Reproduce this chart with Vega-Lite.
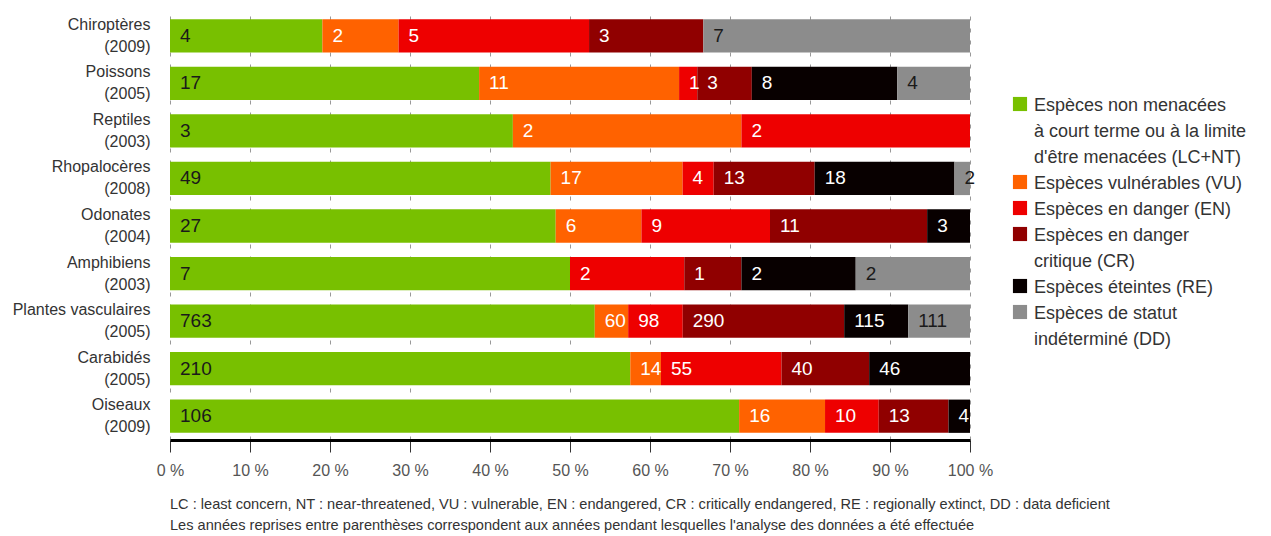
{
  "$schema": "https://vega.github.io/schema/vega-lite/v6.json",
  "autosize": "none",
  "width": 800,
  "height": 428,
  "padding": {"left": 170, "top": 12, "right": 301, "bottom": 96},
  "background": "white",
  "config": {
    "font": "Liberation Sans",
    "view": {"stroke": null},
    "style": {"guide-label": {"lineHeight": 26, "dy": -7}}
  },
  "title": {
    "text": ["LC : least concern, NT : near-threatened, VU : vulnerable, EN : endangered, CR : critically endangered, RE : regionally extinct, DD : data deficient", "Les années reprises entre parenthèses correspondent aux années pendant lesquelles l'analyse des données a été effectuée"],
    "orient": "bottom",
    "anchor": "start",
    "frame": "group",
    "fontSize": 14.6,
    "fontWeight": "normal",
    "color": "#333333",
    "lineHeight": 21,
    "offset": 19
  },
  "data": {
    "values": [
      {"groupe": "Chiroptères|(2009)", "statut": "LC+NT", "o": 1, "n": 4},
      {"groupe": "Chiroptères|(2009)", "statut": "VU", "o": 2, "n": 2},
      {"groupe": "Chiroptères|(2009)", "statut": "EN", "o": 3, "n": 5},
      {"groupe": "Chiroptères|(2009)", "statut": "CR", "o": 4, "n": 3},
      {"groupe": "Chiroptères|(2009)", "statut": "DD", "o": 6, "n": 7},
      {"groupe": "Poissons|(2005)", "statut": "LC+NT", "o": 1, "n": 17},
      {"groupe": "Poissons|(2005)", "statut": "VU", "o": 2, "n": 11},
      {"groupe": "Poissons|(2005)", "statut": "EN", "o": 3, "n": 1},
      {"groupe": "Poissons|(2005)", "statut": "CR", "o": 4, "n": 3},
      {"groupe": "Poissons|(2005)", "statut": "RE", "o": 5, "n": 8},
      {"groupe": "Poissons|(2005)", "statut": "DD", "o": 6, "n": 4},
      {"groupe": "Reptiles|(2003)", "statut": "LC+NT", "o": 1, "n": 3},
      {"groupe": "Reptiles|(2003)", "statut": "VU", "o": 2, "n": 2},
      {"groupe": "Reptiles|(2003)", "statut": "EN", "o": 3, "n": 2},
      {"groupe": "Rhopalocères|(2008)", "statut": "LC+NT", "o": 1, "n": 49},
      {"groupe": "Rhopalocères|(2008)", "statut": "VU", "o": 2, "n": 17},
      {"groupe": "Rhopalocères|(2008)", "statut": "EN", "o": 3, "n": 4},
      {"groupe": "Rhopalocères|(2008)", "statut": "CR", "o": 4, "n": 13},
      {"groupe": "Rhopalocères|(2008)", "statut": "RE", "o": 5, "n": 18},
      {"groupe": "Rhopalocères|(2008)", "statut": "DD", "o": 6, "n": 2},
      {"groupe": "Odonates|(2004)", "statut": "LC+NT", "o": 1, "n": 27},
      {"groupe": "Odonates|(2004)", "statut": "VU", "o": 2, "n": 6},
      {"groupe": "Odonates|(2004)", "statut": "EN", "o": 3, "n": 9},
      {"groupe": "Odonates|(2004)", "statut": "CR", "o": 4, "n": 11},
      {"groupe": "Odonates|(2004)", "statut": "RE", "o": 5, "n": 3},
      {"groupe": "Amphibiens|(2003)", "statut": "LC+NT", "o": 1, "n": 7},
      {"groupe": "Amphibiens|(2003)", "statut": "EN", "o": 3, "n": 2},
      {"groupe": "Amphibiens|(2003)", "statut": "CR", "o": 4, "n": 1},
      {"groupe": "Amphibiens|(2003)", "statut": "RE", "o": 5, "n": 2},
      {"groupe": "Amphibiens|(2003)", "statut": "DD", "o": 6, "n": 2},
      {"groupe": "Plantes vasculaires|(2005)", "statut": "LC+NT", "o": 1, "n": 763},
      {"groupe": "Plantes vasculaires|(2005)", "statut": "VU", "o": 2, "n": 60},
      {"groupe": "Plantes vasculaires|(2005)", "statut": "EN", "o": 3, "n": 98},
      {"groupe": "Plantes vasculaires|(2005)", "statut": "CR", "o": 4, "n": 290},
      {"groupe": "Plantes vasculaires|(2005)", "statut": "RE", "o": 5, "n": 115},
      {"groupe": "Plantes vasculaires|(2005)", "statut": "DD", "o": 6, "n": 111},
      {"groupe": "Carabidés|(2005)", "statut": "LC+NT", "o": 1, "n": 210},
      {"groupe": "Carabidés|(2005)", "statut": "VU", "o": 2, "n": 14},
      {"groupe": "Carabidés|(2005)", "statut": "EN", "o": 3, "n": 55},
      {"groupe": "Carabidés|(2005)", "statut": "CR", "o": 4, "n": 40},
      {"groupe": "Carabidés|(2005)", "statut": "RE", "o": 5, "n": 46},
      {"groupe": "Oiseaux|(2009)", "statut": "LC+NT", "o": 1, "n": 106},
      {"groupe": "Oiseaux|(2009)", "statut": "VU", "o": 2, "n": 16},
      {"groupe": "Oiseaux|(2009)", "statut": "EN", "o": 3, "n": 10},
      {"groupe": "Oiseaux|(2009)", "statut": "CR", "o": 4, "n": 13},
      {"groupe": "Oiseaux|(2009)", "statut": "RE", "o": 5, "n": 4}
    ]
  },
  "transform": [
    {"stack": "n", "groupby": ["groupe"], "sort": [{"field": "o", "order": "ascending"}], "offset": "normalize", "as": ["x0", "x1"]}
  ],
  "encoding": {
    "y": {
      "field": "groupe",
      "type": "nominal",
      "sort": null,
      "scale": {"paddingInner": 0.3, "paddingOuter": 0.15},
      "axis": {
        "title": null,
        "domain": false,
        "ticks": false,
        "labelExpr": "split(datum.label, '|')",
        "labelFontSize": 16,
        "labelLineHeight": 22,
        "labelOffset": -4,
        "labelColor": "#333333",
        "labelPadding": 20,
        "labelAlign": "right"
      }
    }
  },
  "layer": [
    {
      "mark": {"type": "bar"},
      "encoding": {
        "x": {
          "field": "x0",
          "type": "quantitative",
          "scale": {"domain": [0, 1], "nice": false},
          "axis": {
            "title": null,
            "values": [0, 0.1, 0.2, 0.3, 0.4, 0.5, 0.6, 0.7, 0.8, 0.9, 1],
            "labelExpr": "round(datum.value * 100) + ' %'",
            "labelFontSize": 16,
            "labelColor": "#555555",
            "labelPadding": 17,
            "tickSize": 12,
            "tickColor": "#333333",
            "tickWidth": 1,
            "domainColor": "#000000",
            "domainWidth": 3,
            "grid": true,
            "gridColor": "#999999",
            "gridDash": [4, 8],
            "gridWidth": 1,
            "labelFlush": false
          }
        },
        "x2": {"field": "x1"},
        "color": {
          "field": "statut",
          "type": "nominal",
          "scale": {
            "domain": ["LC+NT", "VU", "EN", "CR", "RE", "DD"],
            "range": ["#78C000", "#FF6200", "#EE0000", "#900000", "#080000", "#8C8C8C"]
          },
          "legend": {
            "title": null,
            "orient": "none",
            "legendX": 841,
            "legendY": 83,
            "symbolType": "square",
            "symbolSize": 200,
            "symbolStrokeWidth": 0,
            "labelFontSize": 18,
            "labelColor": "#333333",
            "labelOffset": 5,
            "labelLimit": 300,
            "rowPadding": 6,
            "labelBaseline": "top",
            "labelExpr": "datum.label == 'LC+NT' ? ['Espèces non menacées', 'à court terme ou à la limite', \"d'être menacées (LC+NT)\"] : datum.label == 'VU' ? 'Espèces vulnérables (VU)' : datum.label == 'EN' ? 'Espèces en danger (EN)' : datum.label == 'CR' ? ['Espèces en danger', 'critique (CR)'] : datum.label == 'RE' ? 'Espèces éteintes (RE)' : ['Espèces de statut', 'indéterminé (DD)']"
          }
        },
        "order": {"field": "o", "type": "quantitative"}
      }
    },
    {
      "mark": {"type": "text", "align": "left", "baseline": "middle", "dx": 10, "fontSize": 19},
      "encoding": {
        "x": {"field": "x0", "type": "quantitative"},
        "text": {"field": "n", "type": "quantitative"},
        "color": {
          "condition": {"test": "datum.statut == 'LC+NT' || datum.statut == 'DD'", "value": "#1a1a1a"},
          "value": "#ffffff"
        }
      }
    }
  ]
}
